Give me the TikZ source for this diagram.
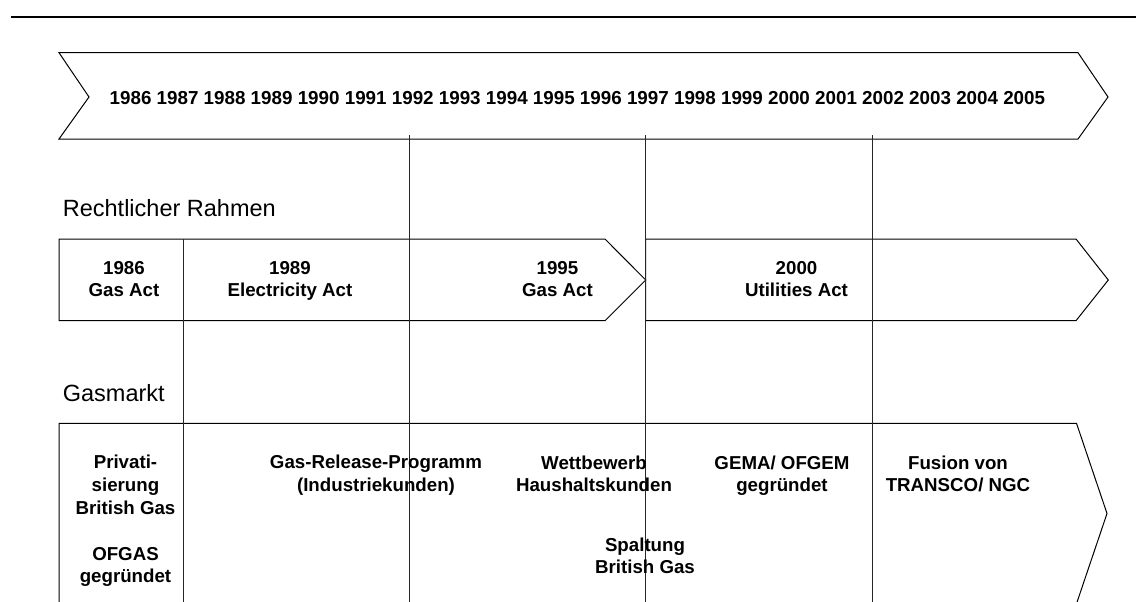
\documentclass[tikz,border=0pt]{standalone}
\usepackage{fontspec}
\setmainfont{Liberation Sans}
\begin{document}
\begin{tikzpicture}[x=1pt,y=-1pt,
  outline/.style={draw=black,line width=1pt,line join=miter},
  gridline/.style={draw=black!85,line width=1pt},
  rule/.style={draw=black,line width=2pt},
  yr/.style={font=\bfseries\fontsize{18.8}{22}\selectfont,inner sep=0pt,anchor=base},
  lbl/.style={font=\bfseries\fontsize{18.7}{22}\selectfont,inner sep=0pt,anchor=base},
  head/.style={font=\fontsize{23.5}{28}\selectfont,inner sep=0pt,anchor=base west}]
\useasboundingbox (0,0) rectangle (1136,602);
\fill[white] (0,0) rectangle (1136,602);
% top rule
\coordinate (ruleL) at (11,16.7);
\coordinate (ruleR) at (1137,16.7);
\draw[rule] (ruleL) -- (ruleR);
% timeline chevron
\draw[outline] (59,52.7) -- (1078,52.7) -- (1108,97) -- (1078,139) -- (59,139) -- (89,97) -- cycle;
\node[yr] (years) at (577.5,104.3) {1986 1987 1988 1989 1990 1991 1992 1993 1994 1995 1996 1997 1998 1999 2000 2001 2002 2003 2004 2005};
% row headings
\node[head] (hRecht) at (62.7,216.7) {Rechtlicher Rahmen};
\node[head] (hGas) at (62.7,401.7) {Gasmarkt};
% legal framework row
\draw[outline] (59,239) -- (605,239) -- (645.7,280) -- (605,320.7) -- (59,320.7) -- cycle;
\draw[outline] (645.7,239) -- (1076,239) -- (1108.3,280) -- (1076,320.7) -- (645.7,320.7) -- cycle;
% gas market row
\draw[outline] (59,605) -- (59,423.3) -- (1076.5,423.3) -- (1107,513.5) -- (1076.5,603.7);
% vertical lines
\coordinate (vA1) at (183,239);   \coordinate (vA2) at (183,605);
\coordinate (vB1) at (409,135);   \coordinate (vB2) at (409,605);
\coordinate (vC1) at (645.7,135); \coordinate (vC2) at (645.7,605);
\coordinate (vD1) at (872,135);   \coordinate (vD2) at (872,605);
\draw[gridline] (vA1) -- (vA2);
\draw[gridline] (vB1) -- (vB2);
\draw[gridline] (vC1) -- (vC2);
\draw[gridline] (vD1) -- (vD2);
% legal texts
\node[lbl] (l1a) at (124,274) {1986};
\node[lbl] (l1b) at (124,296) {Gas Act};
\node[lbl] (l2a) at (290,274) {1989};
\node[lbl] (l2b) at (290,296) {Electricity Act};
\node[lbl] (l3a) at (557.5,274) {1995};
\node[lbl] (l3b) at (557.5,296) {Gas Act};
\node[lbl] (l4a) at (796.5,274) {2000};
\node[lbl] (l4b) at (796.5,296) {Utilities Act};
% gas market texts
\node[lbl] (g1a) at (125.5,468.5) {Privati-};
\node[lbl] (g1b) at (125.5,491) {sierung};
\node[lbl] (g1c) at (125.5,514) {British Gas};
\node[lbl] (g1d) at (125.5,560) {OFGAS};
\node[lbl] (g1e) at (125.5,582.5) {gegründet};
\node[lbl] (g2a) at (376,468.5) {Gas-Release-Programm};
\node[lbl] (g2b) at (376,491) {(Industriekunden)};
\node[lbl] (g3a) at (594,469) {Wettbewerb};
\node[lbl] (g3b) at (594,491.5) {Haushaltskunden};
\node[lbl] (g4a) at (645,551.7) {Spaltung};
\node[lbl] (g4b) at (645,573.5) {British Gas};
\node[lbl] (g5a) at (782,469) {GEMA/ OFGEM};
\node[lbl] (g5b) at (782,491.5) {gegründet};
\node[lbl] (g6a) at (958,469) {Fusion von};
\node[lbl] (g6b) at (958,491.5) {TRANSCO/ NGC};
\end{tikzpicture}
\end{document}
